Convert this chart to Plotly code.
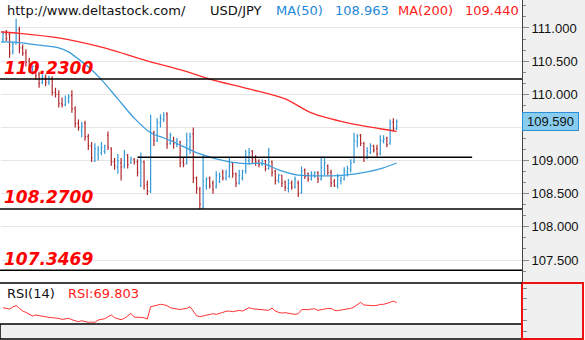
import plotly.graph_objects as go

# ---------------- data ----------------
open_ = [110.82, 110.92, 110.90, 110.65, 110.76, 110.98, 110.70, 110.62, 110.50, 110.36,
         110.42, 110.30, 110.18, 110.26, 110.18, 110.24, 110.03, 110.00, 109.86, 109.84,
         109.90, 109.98, 109.78, 109.56, 109.45, 109.56, 109.36, 109.22, 109.00, 109.10,
         109.12, 109.14, 109.38, 109.18, 108.98, 108.90, 108.96, 108.92, 109.08, 108.96,
         109.02, 108.98, 108.62, 108.98, 108.64, 108.54, 109.42, 109.30, 109.56, 109.62,
         109.70, 109.26, 109.30, 109.24, 109.28, 108.98, 108.96, 109.20, 109.40, 108.74,
         108.56, 108.30, 108.62, 108.74, 108.66, 108.60, 108.68, 108.82, 108.74, 108.76,
         108.96, 108.80, 108.66, 108.74, 108.84, 109.00, 109.14, 109.04, 108.99, 108.94,
         109.00, 108.88, 108.98, 108.84, 108.70, 108.78, 108.68, 108.58, 108.66, 108.60,
         108.66, 108.52, 108.86, 108.80, 108.72, 108.78, 108.82, 108.72, 108.86, 108.92,
         108.82, 108.68, 108.62, 108.70, 108.72, 108.82, 108.86, 108.98, 109.28, 109.38,
         109.26, 109.04, 109.12, 109.22, 109.18, 109.10, 109.30, 109.34, 109.26, 109.58,
         109.48]
high_ = [110.95, 110.97, 110.94, 110.80, 111.14, 111.02, 110.75, 110.68, 110.55, 110.45,
         110.45, 110.34, 110.30, 110.30, 110.28, 110.27, 110.10, 110.06, 109.95, 109.98,
         110.00, 110.06, 109.82, 109.62, 109.58, 109.60, 109.40, 109.28, 109.26, 109.22,
         109.28, 109.24, 109.44, 109.20, 109.04, 109.10, 109.04, 109.16, 109.10, 109.06,
         109.04, 109.02, 109.12, 109.00, 108.70, 109.69, 109.45, 109.64, 109.70, 109.73,
         109.73, 109.42, 109.36, 109.34, 109.30, 109.04, 109.42, 109.42, 109.50, 108.76,
         108.60, 109.08, 108.75, 108.76, 108.70, 108.84, 108.82, 108.86, 108.86, 109.04,
         108.98, 108.82, 108.86, 108.86, 109.16, 109.19, 109.16, 109.08, 109.02, 109.02,
         109.01, 109.19, 109.00, 108.86, 108.80, 108.78, 108.70, 108.72, 108.70, 108.76,
         108.70, 108.91, 108.88, 108.82, 108.84, 108.84, 108.84, 109.06, 109.06, 108.94,
         108.86, 108.72, 108.80, 108.76, 108.90, 108.92, 109.02, 109.42, 109.40, 109.40,
         109.28, 109.20, 109.26, 109.24, 109.24, 109.38, 109.38, 109.36, 109.62, 109.64,
         109.62]
low_ = [110.78, 110.80, 110.55, 110.60, 110.75, 110.62, 110.58, 110.42, 110.33, 110.30,
        110.22, 110.10, 110.15, 110.12, 110.14, 109.98, 109.95, 109.80, 109.80, 109.82,
        109.86, 109.72, 109.50, 109.45, 109.35, 109.30, 109.16, 108.98, 108.98, 109.00,
        109.08, 109.10, 109.16, 108.92, 108.86, 108.80, 108.70, 108.88, 108.88, 108.95,
        108.94, 108.76, 108.60, 108.56, 108.48, 108.51, 109.22, 109.28, 109.50, 109.58,
        109.18, 109.24, 109.18, 109.20, 108.90, 108.90, 108.94, 109.10, 108.66, 108.50,
        108.27, 108.27, 108.56, 108.58, 108.50, 108.58, 108.66, 108.70, 108.70, 108.74,
        108.74, 108.60, 108.64, 108.70, 108.80, 108.94, 108.96, 108.92, 108.90, 108.92,
        108.84, 108.86, 108.76, 108.64, 108.66, 108.60, 108.54, 108.52, 108.56, 108.58,
        108.45, 108.50, 108.72, 108.68, 108.70, 108.74, 108.66, 108.70, 108.78, 108.78,
        108.60, 108.60, 108.58, 108.64, 108.70, 108.76, 108.82, 108.96, 109.20, 109.22,
        108.98, 109.02, 109.10, 109.12, 109.06, 109.08, 109.26, 109.20, 109.24, 109.44,
        109.46]
close_ = [110.92, 110.84, 110.62, 110.76, 110.98, 110.70, 110.62, 110.48, 110.38, 110.42,
          110.28, 110.16, 110.26, 110.18, 110.24, 110.03, 110.00, 109.86, 109.84, 109.94,
          109.96, 109.78, 109.56, 109.50, 109.52, 109.36, 109.22, 109.04, 109.18, 109.16,
          109.20, 109.22, 109.20, 108.98, 108.92, 109.00, 108.90, 109.10, 108.94, 109.02,
          108.98, 108.82, 108.98, 108.62, 108.54, 109.42, 109.30, 109.58, 109.64, 109.68,
          109.25, 109.38, 109.26, 109.30, 108.96, 108.94, 109.30, 109.36, 108.74, 108.58,
          108.34, 108.68, 108.72, 108.62, 108.56, 108.78, 108.76, 108.74, 108.82, 108.92,
          108.80, 108.66, 108.78, 108.84, 109.06, 109.12, 109.02, 108.98, 108.94, 108.99,
          108.88, 108.98, 108.82, 108.70, 108.78, 108.66, 108.60, 108.66, 108.60, 108.72,
          108.50, 108.84, 108.76, 108.72, 108.80, 108.82, 108.72, 108.90, 108.96, 108.82,
          108.66, 108.62, 108.76, 108.74, 108.84, 108.88, 108.96, 109.30, 109.36, 109.26,
          109.04, 109.14, 109.22, 109.16, 109.10, 109.30, 109.32, 109.24, 109.56, 109.48,
          109.59]

ma50_idx = [-1, 5, 11, 17, 20, 23, 27, 30, 35, 40, 45, 49, 52, 60, 69, 75, 79, 84, 90, 100, 104, 111, 116, 120]
ma50 = [110.79, 110.78, 110.74, 110.70, 110.64, 110.53, 110.37, 110.22, 109.93, 109.64, 109.42, 109.34,
        109.28, 109.10, 108.98, 108.95, 108.96, 108.86, 108.78, 108.77, 108.78, 108.83, 108.89, 108.963]
ma200_idx = [-1, 5, 17, 30, 45, 54, 63, 75, 86, 94, 105, 115, 120]
ma200 = [110.94, 110.92, 110.85, 110.71, 110.49, 110.37, 110.23, 110.08, 109.93, 109.72, 109.57, 109.48, 109.44]

rsi = [59.5, 58.1, 56.7, 60.9, 63.6, 58.1, 52.6, 49.9, 45.8, 42.3,
       44.4, 43.7, 42.3, 40.9, 39.6, 38.9, 38.9, 37.5, 35.4, 36.8,
       37.5, 34.8, 33.4, 30.6, 32.7, 31.3, 29.3, 29.9, 29.3, 34.1,
       35.4, 36.8, 40.9, 44.4, 38.9, 36.1, 34.8, 37.5, 43.0, 47.8,
       40.3, 40.3, 39.6, 38.9, 36.1, 61.6, 63.0, 65.0, 66.4, 65.7,
       63.6, 59.5, 57.4, 56.7, 56.0, 56.7, 58.1, 61.6, 51.3, 43.0,
       40.9, 42.3, 44.4, 46.5, 47.1, 45.8, 47.1, 49.9, 52.1, 52.6,
       51.3, 52.6, 54.0, 52.6, 55.4, 59.5, 57.4, 56.7, 56.0, 56.7,
       55.4, 54.0, 58.8, 52.6, 49.9, 48.5, 49.2, 48.5, 46.5, 45.8,
       47.1, 55.4, 56.0, 55.4, 56.7, 57.4, 54.0, 56.0, 56.7, 58.1,
       58.1, 54.0, 53.3, 54.7, 55.4, 56.7, 58.1, 60.9, 66.4, 70.5,
       65.0, 64.3, 63.6, 63.6, 64.3, 66.4, 66.4, 67.8, 70.5, 73.2,
       69.803]

levels = [110.2300, 108.2700, 107.3469]
level_labels = ["110.2300", "108.2700", "107.3469"]
support = [41, 143, 109.05]  # start bar, end bar, price

# right-axis ticks; the 109.5 label sits under the last-price box
y_tickvals = [107.5, 108.0, 108.5, 109.0, 109.5, 110.0, 110.5, 111.0]
y_ticktext = ["107.500", "108.000", "108.500", "109.000", "", "110.000", "110.500", "111.000"]

symbol = "USD/JPY"
site = "http://www.deltastock.com/"
ma50_label, ma50_last = "MA(50)", "108.963"
ma200_label, ma200_last = "MA(200)", "109.440"
rsi_label, rsi_last = "RSI(14)", "RSI:69.803"

# ---------------- style ----------------
W, H = 585, 340
UP = "#3399d6"
DOWN = "#b0282e"
MA50_C = "#3d9ddc"
MA200_C = "#ff2b2b"
RSI_C = "#ff3333"
GREY = "#f0f0f0"
PLOT_R = 522 / W
MAIN_BOT = 1 - 283 / H
RSI_BOT = 1 - 339 / H
RSI_AREA_BOT = 1 - 324 / H
HDR_FONT = "DejaVu Sans"
AX_FONT = "Liberation Sans"


def px(x):
    return x / W


def py(y):
    return 1 - y / H


N = len(close_)
idx = list(range(N))

fig = go.Figure()
fig.add_trace(go.Ohlc(
    x=idx, open=open_, high=high_, low=low_, close=close_,
    increasing=dict(line=dict(color=UP, width=1.2)),
    decreasing=dict(line=dict(color=DOWN, width=1.2)),
    tickwidth=0.3, xaxis="x", yaxis="y", hoverinfo="skip", showlegend=False))
fig.add_trace(go.Scatter(x=ma200_idx, y=ma200, mode="lines",
                         line=dict(color=MA200_C, width=1.3, shape="spline", smoothing=0.8),
                         xaxis="x", yaxis="y", hoverinfo="skip", showlegend=False))
fig.add_trace(go.Scatter(x=ma50_idx, y=ma50, mode="lines",
                         line=dict(color=MA50_C, width=1.3, shape="spline", smoothing=0.8),
                         xaxis="x", yaxis="y", hoverinfo="skip", showlegend=False))
fig.add_trace(go.Scatter(x=idx, y=rsi, mode="lines",
                         line=dict(color=RSI_C, width=1),
                         xaxis="x2", yaxis="y2", hoverinfo="skip", showlegend=False))

xr = [-0.61, 158.2]
fig.update_layout(
    width=W, height=H,
    margin=dict(l=0, r=0, t=0, b=0),
    paper_bgcolor="white", plot_bgcolor="white",
    showlegend=False,
    xaxis=dict(domain=[px(1), PLOT_R], range=xr, visible=False,
               rangeslider=dict(visible=False), anchor="y"),
    yaxis=dict(domain=[MAIN_BOT, 1], range=[107.153, 111.422], side="right",
               anchor="x", showgrid=True, gridcolor="#e6e6e6", gridwidth=1,
               tickmode="array", tickvals=y_tickvals, ticktext=y_ticktext,
               zeroline=False,
               ticks="outside", ticklen=6, tickcolor="#8a8a8a", tickwidth=1,
               minor=dict(dtick=0.5 / 3, tick0=0, ticks="outside", ticklen=3,
                          tickcolor="#8a8a8a", showgrid=False),
               showline=True, linecolor="#444444", linewidth=1,
               tickfont=dict(family=AX_FONT, size=13, color="#111111")),
    xaxis2=dict(domain=[px(1), PLOT_R], range=xr, visible=False, anchor="y2",
                matches="x"),
    yaxis2=dict(domain=[RSI_BOT, MAIN_BOT], range=[-5.0, 110.4], side="right",
                anchor="x2", showgrid=False, zeroline=False, showticklabels=False,
                ticks="outside", ticklen=4, tickcolor="#8a8a8a",
                tick0=11.4, dtick=22.1, showline=False),
)

shapes = []
shapes.append(dict(type="rect", xref="paper", yref="paper", x0=PLOT_R, x1=1,
                   y0=MAIN_BOT, y1=1, fillcolor=GREY, line=dict(width=0), layer="below"))
shapes.append(dict(type="rect", xref="paper", yref="paper", x0=0, x1=PLOT_R,
                   y0=RSI_BOT, y1=RSI_AREA_BOT, fillcolor=GREY,
                   line=dict(color="black", width=1.5), layer="above"))
shapes.append(dict(type="rect", xref="paper", yref="paper", x0=PLOT_R, x1=px(583),
                   y0=RSI_BOT, y1=MAIN_BOT, fillcolor="rgba(0,0,0,0)",
                   line=dict(color="#ee1111", width=2), layer="above"))
shapes.append(dict(type="rect", xref="paper", yref="paper", x0=PLOT_R, x1=px(583),
                   y0=RSI_BOT, y1=MAIN_BOT, fillcolor=GREY,
                   line=dict(width=0), layer="below"))
shapes.append(dict(type="line", xref="paper", yref="paper", x0=0, x1=PLOT_R,
                   y0=MAIN_BOT, y1=MAIN_BOT, line=dict(color="black", width=1.5)))
for lv in levels:
    shapes.append(dict(type="line", xref="paper", yref="y", x0=0, x1=PLOT_R,
                       y0=lv, y1=lv, line=dict(color="black", width=1.5)))
shapes.append(dict(type="line", xref="x", yref="y", x0=support[0], x1=support[1],
                   y0=support[2], y1=support[2], line=dict(color="black", width=1.5)))
fig.update_layout(shapes=shapes)

ann = []
for lv, lab in zip(levels, level_labels):
    ann.append(dict(xref="paper", yref="y", x=px(2), y=lv, xanchor="left",
                    yanchor="middle", yshift=11.5, showarrow=False, text=lab,
                    font=dict(family=HDR_FONT, size=17, color="#ff0000",
                              weight="bold", style="italic")))

hdr_y = py(11)
for text, xpos, col in [(site, 5, "#111111"), (symbol, 208, "#111111"),
                        (ma50_label, 274, "#1e88d8"), (ma50_last, 333, "#1e88d8"),
                        (ma200_label, 396, "#ff1a1a"), (ma200_last, 463, "#ff1a1a")]:
    ann.append(dict(xref="paper", yref="paper", x=px(xpos), y=hdr_y, xanchor="left",
                    yanchor="middle", showarrow=False, text=text,
                    font=dict(family=HDR_FONT, size=13, color=col)))

rsi_y = py(293)
for text, xpos, col in [(rsi_label, 5, "#111111"), (rsi_last, 66, "#ff1a1a")]:
    ann.append(dict(xref="paper", yref="paper", x=px(xpos), y=rsi_y, xanchor="left",
                    yanchor="middle", showarrow=False, text=text,
                    font=dict(family=HDR_FONT, size=13, color=col)))

ann.append(dict(xref="paper", yref="y", x=PLOT_R, y=close_[-1], xanchor="left",
                yanchor="middle", showarrow=False, text=f"{close_[-1]:.3f}",
                bgcolor="#88cdf0", bordercolor="#2a8fd4", borderwidth=1, borderpad=1,
                width=53, align="center",
                font=dict(family=AX_FONT, size=13, color="#111111")))
fig.update_layout(annotations=ann)

fig.write_html("out.html")
